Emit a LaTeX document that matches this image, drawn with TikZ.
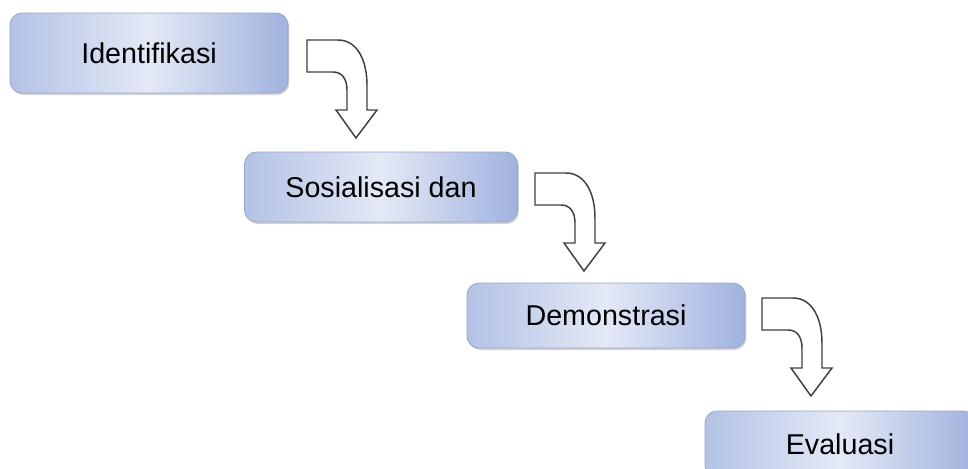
\documentclass[tikz,border=0pt]{standalone}
\usepackage{fontspec}
\setmainfont{Liberation Sans}
\usetikzlibrary{shadows}
\definecolor{boxdark}{RGB}{160,178,222}
\definecolor{boxlight}{RGB}{228,233,246}
\definecolor{boxedge}{RGB}{150,165,205}
\tikzset{
  stagebox/.style={rounded corners=9pt, draw=boxedge, line width=0.6pt,
    left color=boxdark!80, right color=boxdark, middle color=boxlight,
    drop shadow={shadow xshift=1pt, shadow yshift=-1.5pt, opacity=0.35},
    font=\fontsize{21.5}{26}\selectfont, inner sep=0pt},
  bentarrow/.style={draw=black!75, line width=1.1pt, fill=white, line join=miter}
}
\begin{document}
\begin{tikzpicture}[x=0.75pt, y=-0.75pt]
  \useasboundingbox (0,0) rectangle (968,468);

  % stages
  \foreach \pos/\name/\w/\h/\txt in {
      {(149,53)/ident/278/80/Identifikasi},
      {(381,187)/sosial/273/70/Sosialisasi dan},
      {(606,315.5)/demo/278/65/Demonstrasi},
      {(840,444)/eval/270/66/Evaluasi}}
    \node[stagebox, minimum width=\w*0.75pt, minimum height=\h*0.75pt] (\name) at \pos {\txt};

  % bent arrows between the stages
  \foreach \x/\y in {307/40, 535/173, 762/298}
    \draw[bentarrow, shift={(\x,\y)}] (0,0) -- (31,0)
      .. controls (50,0) and (60,20) .. (60,45) -- (60,70) -- (70,70)
      -- (49,98) -- (29,70) -- (40,70) -- (40,50)
      .. controls (40,39) and (35,32) .. (26,32) -- (0,32) -- cycle;
\end{tikzpicture}
\end{document}
